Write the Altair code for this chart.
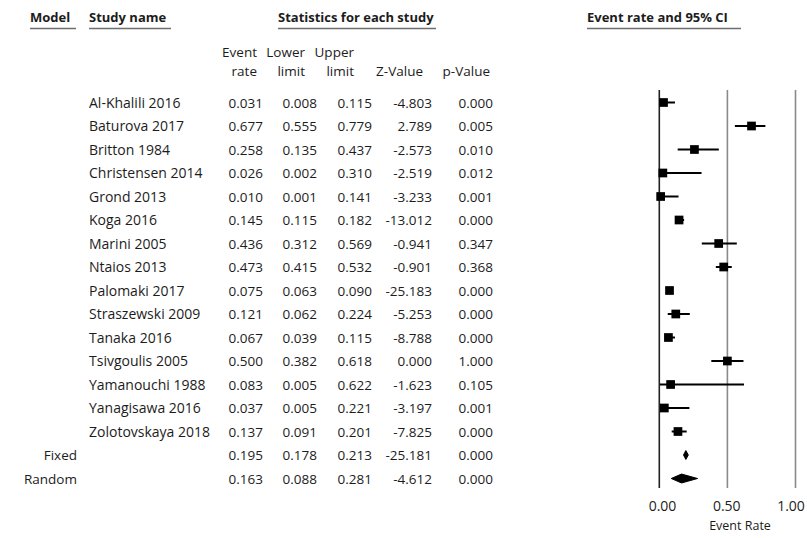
import altair as alt
import pandas as pd

# ---- data -------------------------------------------------------------
studies = [
    "Al-Khalili 2016", "Baturova 2017", "Britton 1984", "Christensen 2014",
    "Grond 2013", "Koga 2016", "Marini 2005", "Ntaios 2013", "Palomaki 2017",
    "Straszewski 2009", "Tanaka 2016", "Tsivgoulis 2005", "Yamanouchi 1988",
    "Yanagisawa 2016", "Zolotovskaya 2018",
]
event_rate = [0.031, 0.677, 0.258, 0.026, 0.010, 0.145, 0.436, 0.473, 0.075,
              0.121, 0.067, 0.500, 0.083, 0.037, 0.137]
lower_limit = [0.008, 0.555, 0.135, 0.002, 0.001, 0.115, 0.312, 0.415, 0.063,
               0.062, 0.039, 0.382, 0.005, 0.005, 0.091]
upper_limit = [0.115, 0.779, 0.437, 0.310, 0.141, 0.182, 0.569, 0.532, 0.090,
               0.224, 0.115, 0.618, 0.622, 0.221, 0.201]
z_value = [-4.803, 2.789, -2.573, -2.519, -3.233, -13.012, -0.941, -0.901,
           -25.183, -5.253, -8.788, 0.000, -1.623, -3.197, -7.825]
p_value = [0.000, 0.005, 0.010, 0.012, 0.001, 0.000, 0.347, 0.368, 0.000,
           0.000, 0.000, 1.000, 0.105, 0.001, 0.000]

pooled_models = ["Fixed", "Random"]
pooled_rate = [0.195, 0.163]
pooled_lower = [0.178, 0.088]
pooled_upper = [0.213, 0.281]
pooled_z = [-25.181, -4.612]
pooled_p = [0.000, 0.000]

axis_ticks = [0.0, 0.5, 1.0]

# ---- tables -----------------------------------------------------------
rows = []
for i, name in enumerate(studies):
    rows.append(dict(row=i, model="", name=name, est=event_rate[i],
                     lo=lower_limit[i], hi=upper_limit[i], z=z_value[i],
                     p=p_value[i], kind="study"))
for j, m in enumerate(pooled_models):
    rows.append(dict(row=len(studies) + j, model=m, name="", est=pooled_rate[j],
                     lo=pooled_lower[j], hi=pooled_upper[j], z=pooled_z[j],
                     p=pooled_p[j], kind="pooled"))
df = pd.DataFrame(rows)
study_df = df[df.kind == "study"]

# table columns, left to right
columns = ["model", "name", "est", "lo", "hi", "z", "p"]
col_index = {c: k for k, c in enumerate(columns)}
stat_cols = columns[2:]

cells = []
for _, r in df.iterrows():
    for c in stat_cols:
        cells.append(dict(row=r["row"], col=col_index[c], label=f"{r[c]:.3f}"))
cells_df = pd.DataFrame(cells)
df["model_col"] = col_index["model"]
df["name_col"] = col_index["name"]

# closed diamond outline (lower, estimate, upper) for the pooled estimates
HALF = 0.19
diamonds = []
for _, r in df[df.kind == "pooled"].iterrows():
    verts = [(r["lo"], r["row"]), (r["est"], r["row"] - HALF),
             (r["hi"], r["row"]), (r["est"], r["row"] + HALF),
             (r["lo"], r["row"])]
    for k, (vx, vy) in enumerate(verts):
        diamonds.append(dict(model=r["model"], vertex=k, vx=vx, vy=vy))
diamond_df = pd.DataFrame(diamonds)
ticks_df = pd.DataFrame({"tick": axis_ticks,
                         "label": [f"{t:.2f}" for t in axis_ticks]})

# ---- scales -----------------------------------------------------------
FONT = "Open Sans"
INK = "#1c1c1c"
x_forest = alt.Scale(domain=[0, 1], range=[659.3, 795.5], nice=False, zero=False)
x_ticklab = alt.Scale(domain=[0, 1], range=[662.5, 791], nice=False, zero=False)
y_rows = alt.Scale(domain=[0, 16], range=[102.5, 478.5], nice=False, zero=False)
# piecewise-linear column scale: one anchor per table column
col_scale = alt.Scale(domain=list(range(len(columns))),
                      range=[77, 89, 263, 317, 372, 432, 493],
                      nice=False, zero=False)

# ---- forest plot ------------------------------------------------------
ref_lines = alt.Chart(ticks_df).mark_rule(strokeWidth=1.6).encode(
    x=alt.X("tick:Q", scale=x_forest, axis=None),
    y=alt.value(90), y2=alt.value(488),
    color=alt.condition(alt.datum.tick == 0, alt.value("#222222"), alt.value("#8a8a8a")),
)
ci = alt.Chart(study_df).mark_rule(color="black", strokeWidth=2).encode(
    x=alt.X("lo:Q", scale=x_forest, axis=None), x2="hi:Q",
    y=alt.Y("row:Q", scale=y_rows, axis=None),
)
squares = alt.Chart(study_df).mark_square(color="black", opacity=1, size=76).encode(
    x=alt.X("est:Q", scale=x_forest, axis=None),
    y=alt.Y("row:Q", scale=y_rows, axis=None),
)
diamond = alt.Chart(diamond_df).mark_line(fill="black", stroke="black",
                                          strokeWidth=1, opacity=1).encode(
    x=alt.X("vx:Q", scale=x_forest, axis=None),
    y=alt.Y("vy:Q", scale=y_rows, axis=None),
    detail="model:N", order="vertex:Q",
)
tick_labels = alt.Chart(ticks_df).mark_text(font=FONT, fontSize=14, color=INK,
                                            baseline="middle").encode(
    x=alt.X("tick:Q", scale=x_ticklab, axis=None), y=alt.value(507), text="label:N",
)
axis_title = alt.Chart(ticks_df.head(1)).mark_text(
    font=FONT, fontSize=12.5, color=INK, baseline="middle", text="Event Rate",
).encode(x=alt.value(740), y=alt.value(526))

# ---- statistics table -------------------------------------------------
model_text = alt.Chart(df).mark_text(font=FONT, fontSize=13.5, color=INK, align="right",
                                     baseline="middle", dy=1).encode(
    x=alt.X("model_col:Q", scale=col_scale, axis=None),
    y=alt.Y("row:Q", scale=y_rows, axis=None), text="model:N",
)
name_text = alt.Chart(df).mark_text(font=FONT, fontSize=14, color=INK, align="left",
                                    baseline="middle", dy=1).encode(
    x=alt.X("name_col:Q", scale=col_scale, axis=None),
    y=alt.Y("row:Q", scale=y_rows, axis=None), text="name:N",
)
num_text = alt.Chart(cells_df).mark_text(font=FONT, fontSize=13.5, color=INK, align="right",
                                         baseline="middle", dy=1).encode(
    x=alt.X("col:Q", scale=col_scale, axis=None),
    y=alt.Y("row:Q", scale=y_rows, axis=None), text="label:N",
)

# ---- headings ---------------------------------------------------------
def heading(text, x, y, bold=False, align="left"):
    return alt.Chart(ticks_df.head(1)).mark_text(
        font=FONT, fontSize=13.5 if not bold else 13, color=INK, align=align,
        baseline="middle", fontWeight="bold" if bold else "normal", text=text,
    ).encode(x=alt.value(x), y=alt.value(y))

def underline(x1, x2):
    return alt.Chart(ticks_df.head(1)).mark_rule(color="#6e6e6e", strokeWidth=1.5).encode(
        x=alt.value(x1), x2=alt.value(x2), y=alt.value(28.5))

headings = [
    heading("Model", 30, 18, bold=True), underline(30, 76),
    heading("Study name", 89, 18, bold=True), underline(89, 171),
    heading("Statistics for each study", 278, 18, bold=True), underline(278, 436),
    heading("Event rate and 95% CI", 587, 18, bold=True), underline(587, 741),
    heading("Event", 257, 53, align="right"), heading("rate", 257, 72, align="right"),
    heading("Lower", 305, 53, align="right"), heading("limit", 305, 72, align="right"),
    heading("Upper", 354, 53, align="right"), heading("limit", 354, 72, align="right"),
    heading("Z-Value", 423, 72, align="right"),
    heading("p-Value", 490, 72, align="right"),
]

chart = alt.layer(
    ref_lines, ci, squares, diamond, tick_labels, axis_title,
    model_text, name_text, num_text, *headings,
).resolve_scale(x="independent").properties(
    width=807, height=538, padding=0,
    autosize=alt.AutoSizeParams(type="none"),
    background="white",
).configure_view(stroke=None)

chart.save("out.html", embed_options={"renderer": "svg", "actions": False})
